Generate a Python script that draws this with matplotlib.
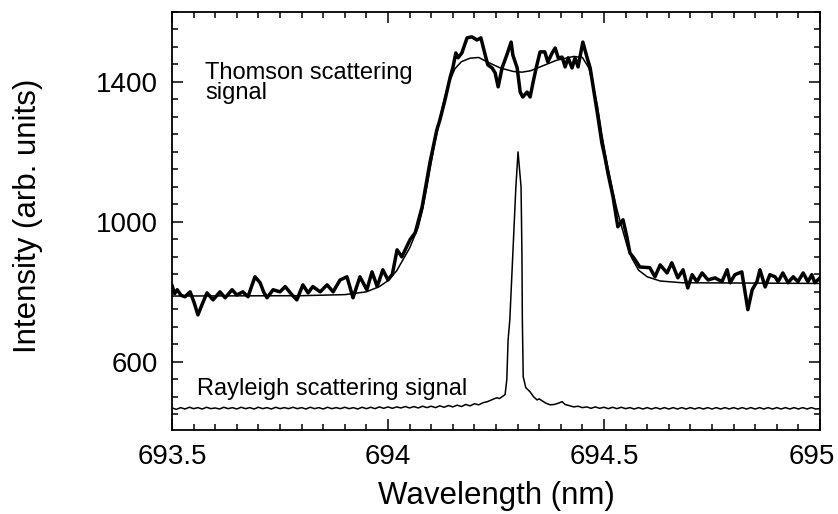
import matplotlib
matplotlib.use("Agg")
import matplotlib.pyplot as plt
import matplotlib.transforms as mtransforms
from matplotlib.ticker import FixedLocator, MultipleLocator

plt.rcParams['font.family'] = ['Liberation Sans', 'DejaVu Sans']

# Thomson scattering signal (measured, noisy)
thomson_wl = [
    693.500, 693.506, 693.512, 693.521, 693.530, 693.542, 693.551, 693.560, 693.570, 693.581,
    693.595, 693.611, 693.623, 693.639, 693.650, 693.664, 693.676, 693.684, 693.692, 693.704,
    693.712, 693.720, 693.734, 693.750, 693.762, 693.778, 693.789, 693.803, 693.815, 693.826,
    693.843, 693.859, 693.873, 693.889, 693.905, 693.919, 693.935, 693.951, 693.963, 693.975,
    693.988, 694.000, 694.010, 694.021, 694.032, 694.051, 694.063, 694.079, 694.097, 694.113,
    694.120, 694.132, 694.144, 694.150, 694.157, 694.162, 694.171, 694.183, 694.194, 694.206,
    694.215, 694.225, 694.231, 694.241, 694.248, 694.255, 694.264, 694.275, 694.285, 694.289,
    694.299, 694.306, 694.312, 694.322, 694.329, 694.336, 694.343, 694.352, 694.363, 694.370,
    694.380, 694.387, 694.394, 694.403, 694.410, 694.417, 694.426, 694.433, 694.440, 694.451,
    694.461, 694.468, 694.475, 694.486, 694.495, 694.502, 694.509, 694.521, 694.532, 694.544,
    694.553, 694.560, 694.569, 694.583, 694.606, 694.618, 694.630, 694.646, 694.657, 694.671,
    694.683, 694.694, 694.704, 694.715, 694.727, 694.741, 694.757, 694.773, 694.785, 694.792,
    694.803, 694.819, 694.833, 694.843, 694.854, 694.861, 694.873, 694.884, 694.896, 694.903,
    694.914, 694.926, 694.938, 694.949, 694.961, 694.972, 694.981, 694.988, 695.000,
]
thomson_int = [
    818, 795, 806, 790, 786, 800, 770, 734, 765, 797,
    777, 800, 783, 806, 791, 800, 786, 815, 843, 826,
    800, 783, 806, 800, 815, 791, 777, 820, 797, 815,
    800, 820, 800, 834, 843, 783, 843, 806, 857, 815,
    863, 834, 850, 920, 900, 949, 969, 1043, 1169, 1263,
    1291, 1349, 1414, 1440, 1483, 1469, 1483, 1526, 1529, 1520,
    1526, 1477, 1449, 1440, 1426, 1386, 1440, 1477, 1514, 1477,
    1440, 1371, 1357, 1371, 1357, 1400, 1440, 1486, 1486, 1457,
    1483, 1497, 1469, 1471, 1443, 1469, 1440, 1469, 1443, 1514,
    1469, 1440, 1386, 1300, 1226, 1186, 1140, 1071, 986, 1006,
    957, 911, 897, 871, 869, 843, 877, 854, 883, 840,
    863, 811, 849, 829, 854, 834, 840, 829, 863, 826,
    849, 857, 749, 806, 829, 863, 814, 849, 843, 829,
    854, 826, 843, 829, 854, 829, 849, 826, 840,
]

# Fitted Thomson spectrum (smooth)
fit_wl = [
    693.50, 693.80, 693.90, 693.95, 693.98, 694.00, 694.02, 694.05, 694.07, 694.08,
    694.09, 694.10, 694.11, 694.12, 694.13, 694.14, 694.155, 694.17, 694.19, 694.21,
    694.23, 694.26, 694.29, 694.31, 694.33, 694.35, 694.39, 694.43, 694.45, 694.465,
    694.475, 694.485, 694.495, 694.505, 694.52, 694.53, 694.54, 694.555, 694.565, 694.58,
    694.60, 694.63, 694.68, 695.00,
]
fit_int = [
    788, 789, 792, 800, 815, 832, 860, 925, 985, 1035,
    1100, 1170, 1235, 1295, 1350, 1395, 1438, 1458, 1468, 1470,
    1457, 1440, 1430, 1428, 1432, 1442, 1462, 1473, 1470, 1440,
    1390, 1330, 1250, 1180, 1090, 1035, 990, 925, 895, 862,
    843, 831, 826, 824,
]

# Rayleigh scattering signal
rayleigh_wl = [
    693.50, 693.51, 693.52, 693.53, 693.54, 693.55, 693.56, 693.57, 693.58, 693.59,
    693.60, 693.61, 693.62, 693.63, 693.64, 693.65, 693.66, 693.67, 693.68, 693.69,
    693.70, 693.71, 693.72, 693.73, 693.74, 693.75, 693.76, 693.77, 693.78, 693.79,
    693.80, 693.81, 693.82, 693.83, 693.84, 693.85, 693.86, 693.87, 693.88, 693.89,
    693.90, 693.91, 693.92, 693.93, 693.94, 693.95, 693.96, 693.97, 693.98, 693.99,
    694.00, 694.01, 694.02, 694.03, 694.04, 694.05, 694.06, 694.07, 694.08, 694.09,
    694.10, 694.11, 694.12, 694.13, 694.14, 694.15, 694.16, 694.17, 694.18, 694.19,
    694.20, 694.21, 694.22, 694.23, 694.236, 694.245, 694.252, 694.258, 694.264, 694.271,
    694.275, 694.278, 694.282, 694.289, 694.296, 694.301, 694.308, 694.310, 694.311, 694.313,
    694.319, 694.329, 694.337, 694.345, 694.350, 694.356, 694.365, 694.375, 694.385, 694.395,
    694.403, 694.41, 694.421, 694.43, 694.44, 694.45, 694.46, 694.47, 694.48, 694.49,
    694.50, 694.51, 694.52, 694.53, 694.54, 694.55, 694.56, 694.57, 694.58, 694.59,
    694.60, 694.61, 694.62, 694.63, 694.64, 694.65, 694.66, 694.67, 694.68, 694.69,
    694.70, 694.71, 694.72, 694.73, 694.74, 694.75, 694.76, 694.77, 694.78, 694.79,
    694.80, 694.81, 694.82, 694.83, 694.84, 694.85, 694.86, 694.87, 694.88, 694.89,
    694.90, 694.91, 694.92, 694.93, 694.94, 694.95, 694.96, 694.97, 694.98, 694.99,
    695.00,
]
rayleigh_int = [
    468, 464, 469, 465, 470, 466, 469, 465, 470, 466,
    468, 465, 470, 466, 469, 465, 470, 466, 469, 465,
    470, 466, 469, 465, 470, 466, 469, 466, 470, 466,
    469, 465, 470, 466, 469, 465, 470, 466, 469, 466,
    470, 466, 469, 465, 470, 466, 470, 466, 471, 467,
    471, 467, 471, 468, 472, 468, 472, 468, 473, 469,
    473, 469, 474, 470, 475, 471, 476, 472, 478, 474,
    480, 477, 483, 486, 489, 494, 497, 495, 500, 506,
    549, 663, 720, 911, 1100, 1200, 1100, 911, 720, 557,
    526, 514, 500, 491, 494, 489, 482, 477, 478, 482,
    486, 478, 474, 471, 473, 469, 471, 467, 471, 467,
    470, 466, 470, 466, 470, 466, 469, 465, 469, 465,
    469, 465, 469, 465, 469, 465, 469, 465, 469, 465,
    469, 465, 469, 465, 469, 465, 469, 465, 469, 465,
    469, 465, 469, 465, 469, 465, 469, 465, 469, 465,
    469, 465, 469, 465, 469, 465, 469, 465, 469, 465,
    466,
]

x_ticks = [693.5, 694.0, 694.5, 695.0]
x_tick_labels = ["693.5", "694", "694.5", "695"]
y_ticks = [600, 1000, 1400]
y_tick_labels = ["600", "1000", "1400"]

fig = plt.figure(figsize=(8.38, 5.14), dpi=100)
ax = fig.add_axes([172 / 838, 1 - 430 / 514, (820 - 172) / 838, (430 - 12) / 514])

ax.plot(rayleigh_wl, rayleigh_int, color='black', lw=1.1)
ax.plot(fit_wl, fit_int, color='black', lw=1.1)
ax.plot(thomson_wl, thomson_int, color='black', lw=2.5, solid_joinstyle='round')

ax.set_xlim(693.5, 695.0)
ax.set_ylim(405, 1600)

ax.xaxis.set_major_locator(FixedLocator(x_ticks))
ax.set_xticklabels(x_tick_labels)
ax.xaxis.set_minor_locator(MultipleLocator(0.05))
ax.yaxis.set_major_locator(FixedLocator(y_ticks))
ax.set_yticklabels(y_tick_labels)
ax.yaxis.set_minor_locator(MultipleLocator(50))

ax.tick_params(which='both', direction='in', top=True, right=True, width=1.1)
ax.tick_params(which='major', length=8, labelsize=20, pad=10)
ax.tick_params(which='minor', length=4.5)
for s in ax.spines.values():
    s.set_linewidth(1.3)

# keep the last x tick label inside the figure, as in the reference
last = ax.get_xticklabels()[-1]
last.set_transform(last.get_transform() +
                   mtransforms.ScaledTranslation(-8 / 100, 0, fig.dpi_scale_trans))

ax.set_xlabel("Wavelength (nm)", fontsize=22.5, labelpad=8)
ax.set_ylabel("Intensity (arb. units)", fontsize=22.5)
ax.yaxis.set_label_coords(-0.199, 0.512)

ax.text(0.051, 0.88, "Thomson scattering\nsignal", transform=ax.transAxes,
        fontsize=17, va='top', ha='left', linespacing=0.85)
ax.text(0.038, 0.084, "Rayleigh scattering signal", transform=ax.transAxes,
        fontsize=17, va='baseline', ha='left')

fig.savefig("out.png", dpi=100)
